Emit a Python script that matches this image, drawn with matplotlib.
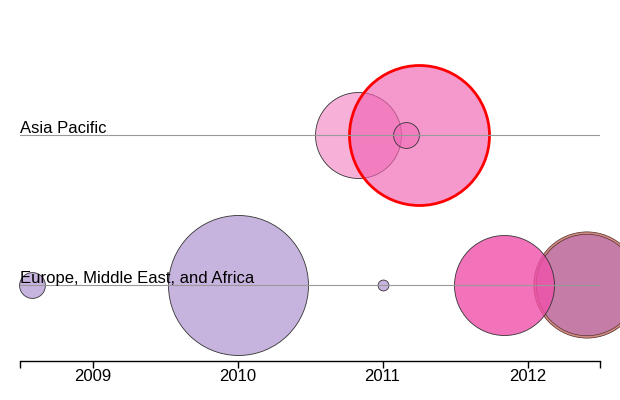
import matplotlib
matplotlib.use("Agg")
import matplotlib.pyplot as plt
import numpy as np

plt.rcParams['font.family'] = ['Liberation Sans', 'DejaVu Sans']

# two swim lanes, one bubble per deal
regions = ['Asia Pacific', 'Europe, Middle East, and Africa']
deal_region = [0, 0, 0, 1, 1, 1, 1, 1]
deal_date = [2010.83, 2011.16, 2011.25, 2008.58, 2010.0, 2011.0, 2011.84, 2012.41]
deal_value = [37.7, 3.4, 100, 3.4, 100, 0.6, 51, 55]
year_ticks = [2009, 2010, 2011, 2012]
x_domain = (2008.5, 2012.5)

# styling for each bubble (face rgb, alpha, edge, edge width, drawing order)
faces = [(240, 100, 180), (240, 100, 180), (240, 100, 180), (170, 140, 205),
         (170, 140, 205), (170, 140, 205), (240, 80, 170), (175, 75, 135)]
alphas = [0.5, 0.5, 0.66, 0.65, 0.65, 0.65, 0.8, 0.72]
edges = ['#333333'] * 8
edges[2] = '#ff0000'
widths = [0.6] * 8
widths[2] = 2.0
order = [2, 2.1, 2, 2, 2, 2, 2.6, 2]

W, H = 620, 400
DPI = 100
fig = plt.figure(figsize=(W / DPI, H / DPI), dpi=DPI)

# axes in pixel terms: left 20, right 600, top 0, bottom (axis line) at 361
left, right, axis_y = 20, 600, 361
ax = fig.add_axes([left / W, (H - axis_y) / H, (right - left) / W, axis_y / H])

lane_px = 150  # pixels between lanes
first_lane_px = 135
ax.set_xlim(*x_domain)
ax.set_ylim((axis_y - first_lane_px) / lane_px, -first_lane_px / lane_px)

max_r = 70  # px
vmax = max(deal_value)
for i in range(len(deal_date)):
    r = max_r * np.sqrt(deal_value[i] / vmax)
    size = (2 * r * 72 / DPI) ** 2
    fc = tuple(c / 255 for c in faces[i]) + (alphas[i],)
    ax.scatter(deal_date[i], deal_region[i], s=size, c=[fc], edgecolors=edges[i],
               linewidths=widths[i], zorder=order[i], clip_on=False)

# last bubble has a double outline
r = max_r * np.sqrt(deal_value[-1] / vmax)
for rr, col, lw in [(r, '#d08a80', 1.8), (r + 1.2, '#553333', 0.5), (r - 1.2, '#553333', 0.5)]:
    ax.scatter(deal_date[-1], deal_region[-1], s=(2 * rr * 72 / DPI) ** 2,
               facecolors='none', edgecolors=col, linewidths=lw, zorder=2.5, clip_on=False)

for k, name in enumerate(regions):
    ax.plot(x_domain, [k, k], color='#999999', lw=0.8, zorder=3)
    ax.annotate(name, (x_domain[0], k), xytext=(0, 2), textcoords='offset pixels',
                ha='left', va='baseline', fontsize=12, color='black', zorder=4)

for s in ['top', 'left', 'right']:
    ax.spines[s].set_visible(False)
ax.spines['bottom'].set_linewidth(1)
ax.set_yticks([])
ax.set_xticks(year_ticks)
ax.set_xticklabels([str(y) for y in year_ticks], fontsize=12)
ax.set_xticks(list(x_domain), minor=True)
ax.tick_params(axis='x', which='both', direction='out', length=5, width=1, pad=0.5)
ax.patch.set_alpha(0)

fig.savefig('out.png', dpi=DPI)
